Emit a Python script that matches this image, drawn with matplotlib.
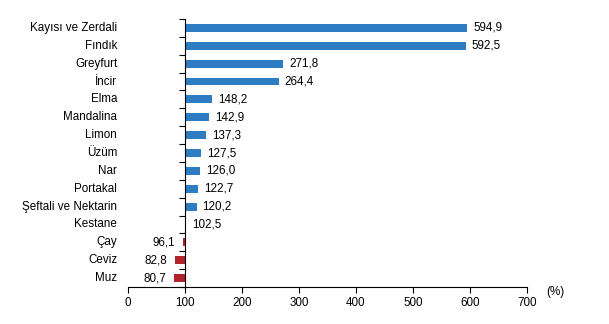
import matplotlib
matplotlib.use("Agg")
import matplotlib.pyplot as plt
from matplotlib.ticker import FixedLocator
import matplotlib.transforms as mtransforms

categories = ["Kayısı ve Zerdali", "Fındık", "Greyfurt", "İncir", "Elma", "Mandalina",
              "Limon", "Üzüm", "Nar", "Portakal", "Şeftali ve Nektarin", "Kestane",
              "Çay", "Ceviz", "Muz"]
values = [594.9, 592.5, 271.8, 264.4, 148.2, 142.9, 137.3, 127.5, 126.0, 122.7,
          120.2, 102.5, 96.1, 82.8, 80.7]
base = 100
xticks = [0, 100, 200, 300, 400, 500, 600, 700]

plt.rcParams['font.family'] = ['Liberation Sans', 'DejaVu Sans']
fs = 8.4
blue = "#2E7DC2"
red = "#B0232A"

fig = plt.figure(figsize=(6.09, 3.24), dpi=100)
ax = fig.add_axes([128/609, 1-287/324, (527-128)/609, (287-19)/324])

y = list(range(len(categories)))
widths = [v - base for v in values]
colors = [blue if v >= base else red for v in values]
ax.barh(y, widths, left=base, height=0.44, color=colors, zorder=2)

ax.set_xlim(0, 700)
ax.set_ylim(len(categories) - 0.5, -0.5)
ax.set_xticks(xticks)
ax.set_xticklabels([str(t) for t in xticks], fontsize=fs)
ax.tick_params(axis='x', direction='out', length=4, width=0.8, pad=3)

for s in ['top', 'right']:
    ax.spines[s].set_visible(False)
ax.spines['left'].set_position(('data', base))
ax.spines['left'].set_linewidth(0.8)
ax.spines['bottom'].set_linewidth(0.8)

ax.set_yticks([])
ax.yaxis.set_minor_locator(FixedLocator([i - 0.5 for i in range(len(categories) + 1)]))
ax.tick_params(axis='y', which='minor', direction='out', length=4, width=0.8, labelleft=False)

trans = mtransforms.blended_transform_factory(ax.transAxes, ax.transData)
for i, c in enumerate(categories):
    ax.text(-0.027, i, c, transform=trans, ha='right', va='center', fontsize=fs)

off = mtransforms.offset_copy(ax.transData, fig=fig, x=6, y=0, units='dots')
offn = mtransforms.offset_copy(ax.transData, fig=fig, x=-8, y=0, units='dots')
for i, v in enumerate(values):
    lab = f"{v:.1f}".replace(".", ",")
    if v >= base:
        ax.text(v, i, lab, transform=off, ha='left', va='center', fontsize=fs)
    else:
        ax.text(v, i, lab, transform=offn, ha='right', va='center', fontsize=fs)

ax.text(1.07, -0.02, "(%)", transform=ax.transAxes, ha='center', va='center', fontsize=fs)

fig.savefig("out.png", dpi=100)
